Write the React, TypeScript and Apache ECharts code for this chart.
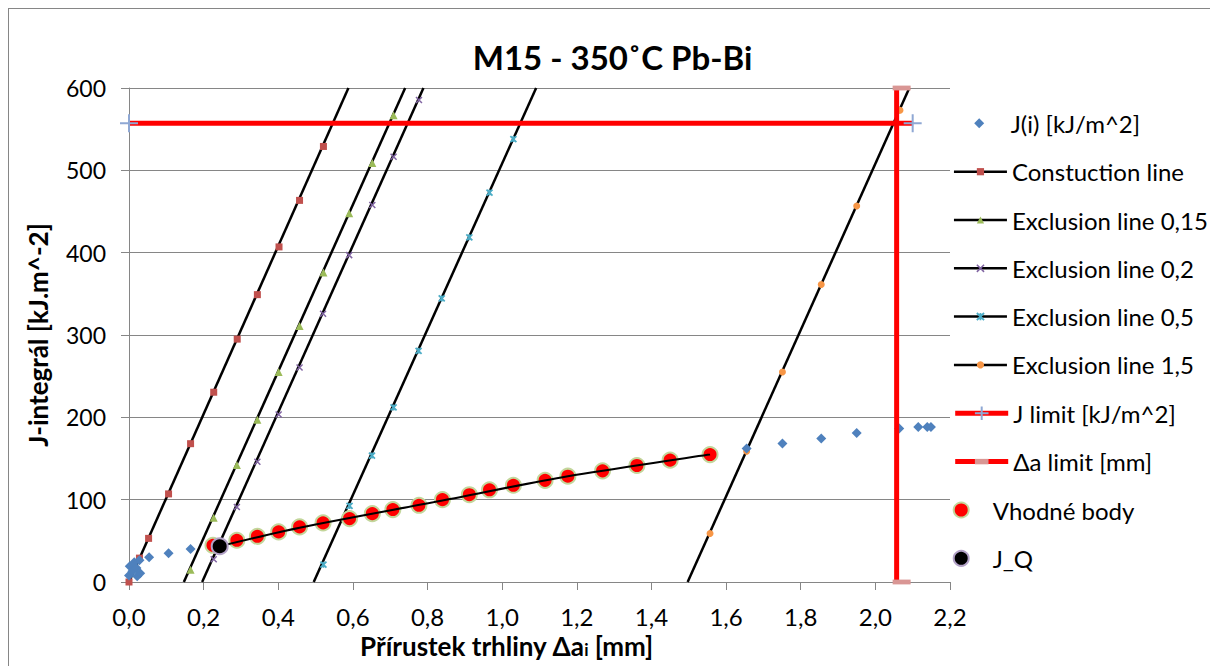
import React, { useEffect, useRef } from 'react';
import * as echarts from 'echarts';

// ---------- data ----------
const xTicks = { min: 0, max: 2.2, interval: 0.2 };
const yTicks = { min: 0, max: 600, interval: 100 };

// J(i) measured points
const jDa = [0.0, 0.002, 0.009, 0.014, 0.02, 0.022, 0.028, 0.03, 0.054, 0.106, 0.165,
  0.225, 0.289, 0.344, 0.401, 0.457, 0.52, 0.591, 0.652, 0.707, 0.777, 0.84, 0.912, 0.966, 1.03,
  1.115, 1.176, 1.269, 1.361, 1.45, 1.557, 1.655, 1.751, 1.855, 1.95, 2.064, 2.115, 2.139, 2.149];
const jVal = [8, 19, 13, 24, 17, 7, 26.5, 10.5, 30, 35, 40,
  44.6, 50.7, 55.5, 60.8, 66.9, 71.8, 77, 83, 88, 93.2, 100, 106, 112, 117.5,
  123.5, 128.5, 135, 141.5, 148, 154.8, 162, 168.2, 174.3, 181.1, 186.4, 188.4, 188.4, 188.4];

// construction line
const consLineDa = [0, 0.588];
const consLineJ = [0, 600];
const consMarkDa = [0, 0.028, 0.0525, 0.106, 0.165, 0.227, 0.29, 0.344, 0.402, 0.457, 0.521];
const consMarkJ = [0, 29, 53, 107, 168, 230.5, 295, 349, 407, 463.5, 529];

// exclusion line 0,15
const ex015LineDa = [0.147, 0.74];
const ex015LineJ = [0, 600];
const ex015MarkDa = [0.165, 0.227, 0.289, 0.344, 0.401, 0.457, 0.521, 0.59, 0.652, 0.709];
const ex015MarkJ = [15, 78, 142, 197, 255, 311, 376, 448, 509, 567];

// exclusion line 0,2
const ex02LineDa = [0.196, 0.789];
const ex02LineJ = [0, 600];
const ex02MarkDa = [0.227, 0.289, 0.344, 0.401, 0.457, 0.52, 0.59, 0.652, 0.709, 0.777];
const ex02MarkJ = [27.6, 91, 146, 203.4, 260.5, 325.7, 397, 458, 516.5, 585.5];

// exclusion line 0,5
const ex05LineDa = [0.495, 1.091];
const ex05LineJ = [0, 600];
const ex05MarkDa = [0.521, 0.591, 0.651, 0.709, 0.776, 0.838, 0.912, 0.966, 1.03];
const ex05MarkJ = [21, 92.4, 153.6, 212, 280.8, 344.4, 418.6, 473, 538];

// exclusion line 1,5
const ex15LineDa = [1.497, 2.091];
const ex15LineJ = [0, 600];
const ex15MarkDa = [1.557, 1.655, 1.751, 1.855, 1.95, 2.066];
const ex15MarkJ = [58.8, 158.7, 255, 361.4, 456.6, 573];

// limits
const jLimitDa = [0, 2.1];
const jLimitJ = [557.1, 557.1];
const daLimitDa = [2.057, 2.057];
const daLimitJ = [0, 600];

// suitable points
const suitDa = [0.225, 0.289, 0.344, 0.401, 0.457, 0.52, 0.591, 0.652, 0.707, 0.777, 0.84, 0.912,
  0.966, 1.03, 1.115, 1.176, 1.269, 1.361, 1.45, 1.557];
const suitJ = [44.6, 50.7, 55.5, 60.8, 66.9, 71.8, 77, 83, 88, 93.2, 100, 106,
  112, 117.5, 123.5, 128.5, 135, 141.5, 148, 154.8];

// fitted curve through suitable points
const fitDa = [0.243, 0.457, 0.84, 1.176, 1.557];
const fitJ = [43.4, 66, 99, 128.5, 154.8];

// J_Q
const jqDa = [0.243];
const jqJ = [43.4];

const names = {
  ji: 'J(i) [kJ/m^2]',
  cons: 'Constuction line',
  e015: 'Exclusion line 0,15',
  e02: 'Exclusion line 0,2',
  e05: 'Exclusion line 0,5',
  e15: 'Exclusion line 1,5',
  jlim: 'J limit [kJ/m^2]',
  dalim: 'Δa limit [mm]',
  suit: 'Vhodné body',
  jq: 'J_Q',
};

// ---------- styles ----------
const FONT = 'Lato, "Liberation Sans", sans-serif';
const C = {
  blue: '#4F81BD',
  red: '#C0504D',
  green: '#9BBB59',
  purple: '#8064A2',
  aqua: '#4BACC6',
  orange: '#F79646',
  limit: '#FF0000',
  plus: '#8FA8D4',
  pink: '#D99694',
  grid: '#868686',
};
const X_PATH = 'path://M0,0L10,10M10,0L0,10';
const STAR_PATH = 'path://M0,0L10,10M10,0L0,10M5,0L5,10';
const PLUS_PATH = 'path://M0,5L10,5M5,0L5,10';
const BAR_PATH = 'path://M0,0M10,10M0,3L10,3L10,7L0,7Z';
const DIAMOND_PATH = 'path://M0,0M53,10M26.5,0L31.5,5L26.5,10L21.5,5Z';

const zip = (a: number[], b: number[]) => a.map((v, i) => [v, b[i]]);

export default function App() {
  const ref = useRef<HTMLDivElement>(null);
  useEffect(() => {
    document.documentElement.style.overflow = 'hidden';
    document.body.style.overflow = 'hidden';
    const chart = echarts.init(ref.current!, null, { renderer: 'svg' });

    const lineSeries = (name: string, da: number[], j: number[], symbol: string, color: string) => ({
      type: 'line', name, data: zip(da, j), symbol, showSymbol: false,
      lineStyle: { color: '#000', width: 2.5 }, itemStyle: { color }, z: 2, silent: true,
    });
    const markSeries = (name: string, da: number[], j: number[], symbol: string, size: number, itemStyle: any) => ({
      type: 'scatter', name, data: zip(da, j), symbol, symbolSize: size,
      itemStyle: { opacity: 1, ...itemStyle }, z: 3, silent: true,
    });

    const legendText = { fontFamily: FONT, fontSize: 24, color: '#000', lineHeight: 24 };
    const legendBase = {
      orient: 'vertical', left: 943.7, itemWidth: 53, padding: 0, itemGap: 24.3,
      textStyle: legendText, selectedMode: false, symbolKeepAspect: true,
      itemStyle: { borderWidth: 0 },
    };
    const lineLegendStyle = { color: '#000', width: 2.5 };

    chart.setOption({
      animation: false,
      backgroundColor: '#fff',
      title: {
        text: 'M15 - 350˚C Pb-Bi', left: 'center', top: 26,
        textStyle: { fontFamily: FONT, fontWeight: 'bold', fontSize: 33, color: '#000' },
      },
      grid: { left: 120, top: 79, width: 821, height: 494 },
      xAxis: {
        type: 'value', min: xTicks.min, max: xTicks.max, interval: xTicks.interval,
        axisLine: { lineStyle: { color: C.grid, width: 1 } },
        axisTick: { show: true, length: 8, lineStyle: { color: C.grid } },
        splitLine: { show: false },
        axisLabel: {
          fontFamily: FONT, fontSize: 24, color: '#000', margin: 22,
          formatter: (v: number) => v.toFixed(1).replace('.', ','),
        },
        name: 'Přírustek trhliny Δa{sub|i} [mm]',
        nameLocation: 'middle', nameGap: 50,
        nameTextStyle: {
          fontFamily: FONT, fontWeight: 'bold', fontSize: 26, color: '#000',
          padding: [0, 66, 0, 0],
          rich: { sub: { fontFamily: FONT, fontWeight: 'bold', fontSize: 17, color: '#000', verticalAlign: 'bottom', padding: [0, 0, 1, 0] } },
        },
      },
      yAxis: {
        type: 'value', min: yTicks.min, max: yTicks.max, interval: yTicks.interval,
        axisLine: { show: true, lineStyle: { color: C.grid, width: 1 } },
        axisTick: { show: true, length: 8, lineStyle: { color: C.grid } },
        splitLine: { show: true, lineStyle: { color: C.grid, width: 1 } },
        axisLabel: { fontFamily: FONT, fontSize: 23, color: '#000', margin: 23 },
        name: 'J-integrál [kJ.m^-2]', nameLocation: 'middle', nameGap: 78, nameRotate: 90,
        nameTextStyle: { fontFamily: FONT, fontWeight: 'bold', fontSize: 26, color: '#000' },
      },
      legend: [
        {
          ...legendBase, top: 102.3, itemHeight: 10,
          data: [{ name: names.ji, icon: DIAMOND_PATH, itemStyle: { color: C.blue, borderWidth: 0 } }],
        },
        {
          ...legendBase, top: 150.7, itemHeight: 9,
          data: [
            { name: names.cons, itemStyle: { color: C.red, borderWidth: 0 }, lineStyle: lineLegendStyle },
            { name: names.e015, itemStyle: { color: C.green, borderWidth: 0 }, lineStyle: lineLegendStyle },
            { name: names.e02, itemStyle: { color: 'none', borderColor: C.purple, borderWidth: 1.5 }, lineStyle: lineLegendStyle },
            { name: names.e05, itemStyle: { color: 'none', borderColor: C.aqua, borderWidth: 1.8 }, lineStyle: lineLegendStyle },
            { name: names.e15, itemStyle: { color: C.orange, borderWidth: 0 }, lineStyle: lineLegendStyle },
          ],
        },
        {
          ...legendBase, top: 392.3, itemHeight: 17,
          data: [
            { name: names.jlim, itemStyle: { color: 'none', borderColor: C.plus, borderWidth: 2 }, lineStyle: { color: C.limit, width: 5 } },
            { name: names.dalim, itemStyle: { color: C.pink, borderWidth: 0 }, lineStyle: { color: C.limit, width: 5 } },
          ],
        },
        {
          ...legendBase, top: 489, itemHeight: 15,
          data: [
            { name: names.suit, icon: 'circle', itemStyle: { color: '#FF0000', borderColor: '#C3D69B', borderWidth: 2 } },
            { name: names.jq, icon: 'circle', itemStyle: { color: '#000', borderColor: '#B3A2C7', borderWidth: 2 } },
          ],
        },
      ],
      series: [
        lineSeries(names.cons, consLineDa, consLineJ, 'rect', C.red),
        lineSeries(names.e015, ex015LineDa, ex015LineJ, 'triangle', C.green),
        lineSeries(names.e02, ex02LineDa, ex02LineJ, X_PATH, C.purple),
        lineSeries(names.e05, ex05LineDa, ex05LineJ, STAR_PATH, C.aqua),
        lineSeries(names.e15, ex15LineDa, ex15LineJ, 'circle', C.orange),
        markSeries(names.cons, consMarkDa, consMarkJ, 'rect', 7, { color: C.red }),
        markSeries(names.e015, ex015MarkDa, ex015MarkJ, 'triangle', 8, { color: C.green }),
        markSeries(names.e02, ex02MarkDa, ex02MarkJ, X_PATH, 6, { color: 'none', borderColor: C.purple, borderWidth: 1.5 }),
        markSeries(names.e05, ex05MarkDa, ex05MarkJ, STAR_PATH, 6, { color: 'none', borderColor: C.aqua, borderWidth: 1.8 }),
        markSeries(names.e15, ex15MarkDa, ex15MarkJ, 'circle', 7, { color: C.orange }),
        {
          type: 'line', name: names.jlim, data: zip(jLimitDa, jLimitJ), symbol: PLUS_PATH, symbolSize: 18,
          showSymbol: true, lineStyle: { color: C.limit, width: 5 },
          itemStyle: { color: 'none', borderColor: C.plus, borderWidth: 2 }, z: 4, silent: true, clip: false,
        },
        {
          type: 'line', name: names.dalim, data: zip(daLimitDa, daLimitJ), symbol: BAR_PATH, symbolSize: [18, 12],
          symbolOffset: [5, 0], showSymbol: true, lineStyle: { color: C.limit, width: 5 },
          itemStyle: { color: C.pink }, z: 4, silent: true, clip: false,
        },
        markSeries(names.ji, jDa, jVal, 'diamond', 10, { color: C.blue }),
        {
          ...markSeries(names.suit, suitDa, suitJ, 'circle', 15, { color: '#FF0000', borderColor: '#C3D69B', borderWidth: 2 }),
          z: 5,
        },
        {
          type: 'line', name: 'fit', data: zip(fitDa, fitJ), smooth: 0.3, showSymbol: false, symbol: 'none',
          lineStyle: { color: '#000', width: 2 }, z: 6, silent: true,
        },
        {
          ...markSeries(names.jq, jqDa, jqJ, 'circle', 16, { color: '#000', borderColor: '#B3A2C7', borderWidth: 2 }),
          z: 7,
        },
      ],
    });
    return () => chart.dispose();
  }, []);

  return (
    <div
      ref={ref}
      style={{ width: 1207, height: 657, border: '1px solid #868686', background: '#fff' }}
    />
  );
}
